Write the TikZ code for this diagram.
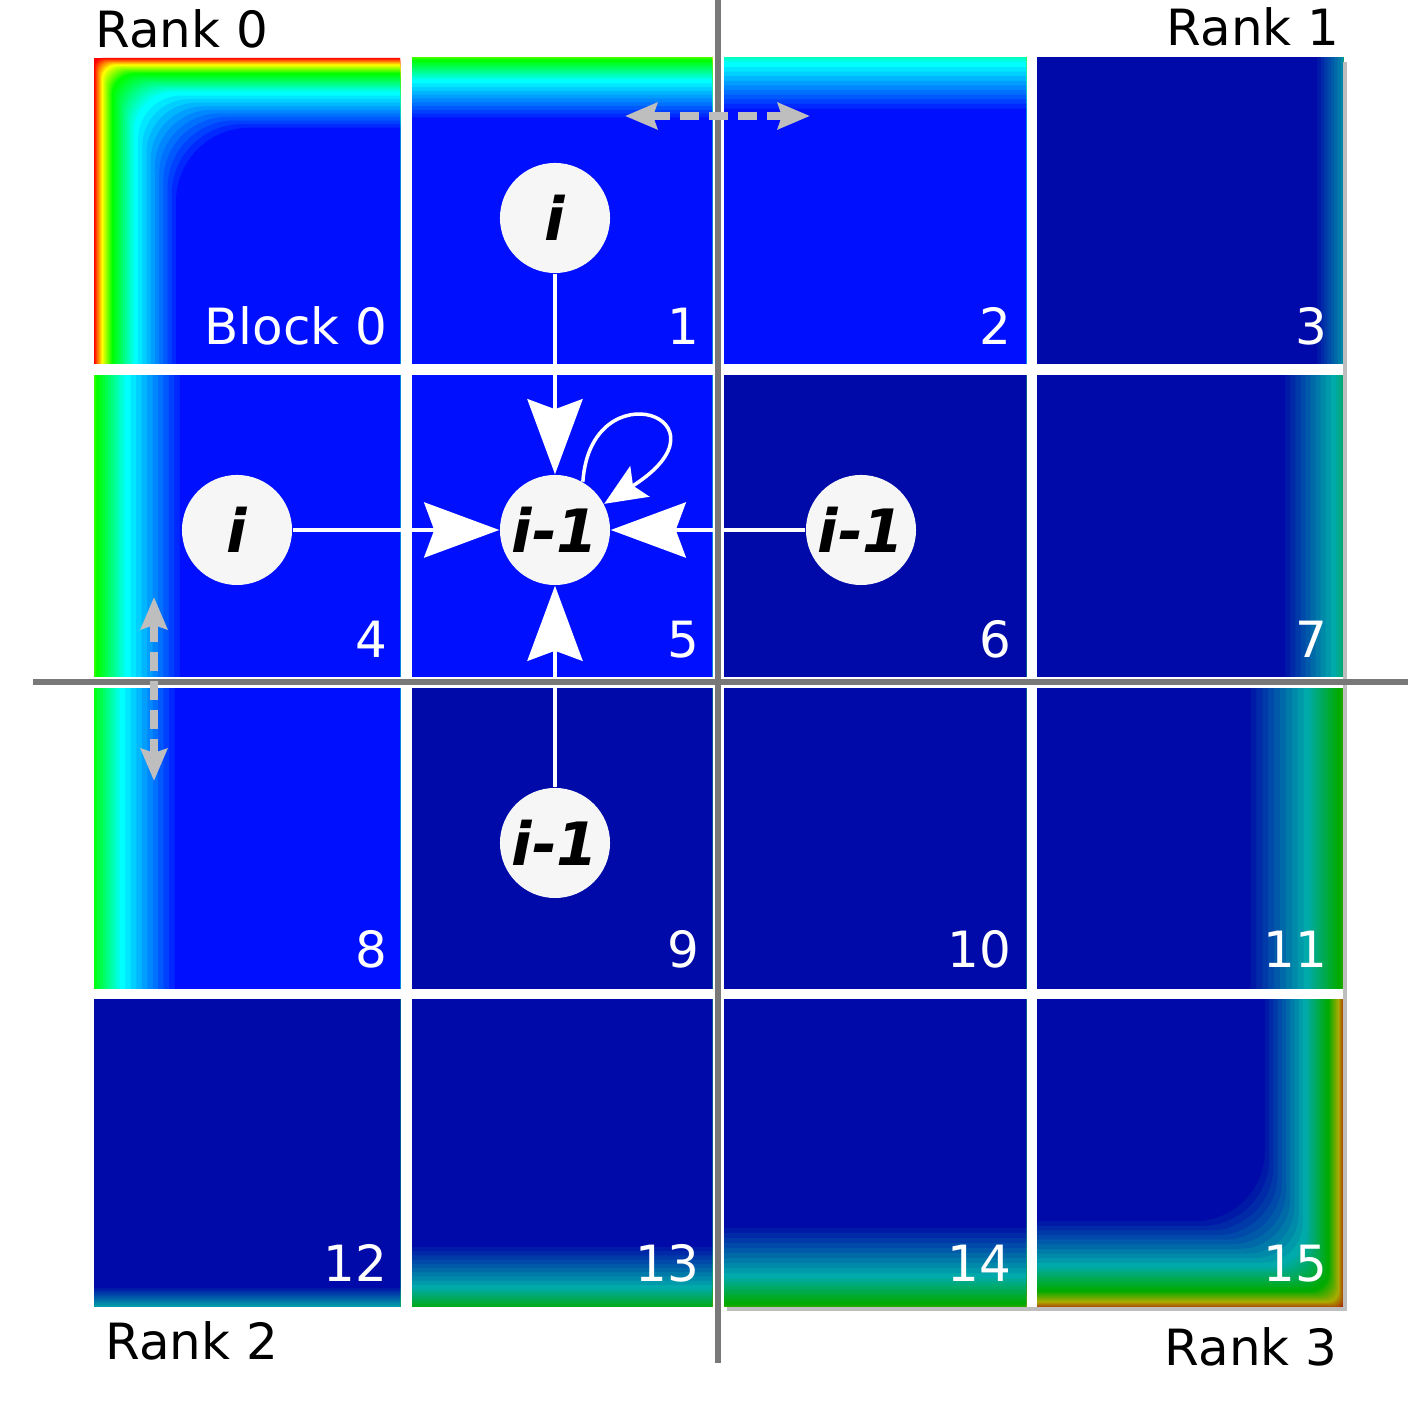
\documentclass[tikz,border=0pt]{standalone}
\usepackage{fontspec}
\setmainfont{DejaVu Sans}
\usetikzlibrary{arrows.meta}

% jet colours, bright and dark
\definecolor{jredB}{RGB}{255,0,0}
\definecolor{jyelB}{RGB}{255,255,0}
\definecolor{jgrnB}{RGB}{0,255,0}
\definecolor{jcynB}{RGB}{0,255,255}
\definecolor{jbluB}{RGB}{0,16,255}
\definecolor{jredD}{RGB}{170,0,0}
\definecolor{jyelD}{RGB}{170,170,0}
\definecolor{jgrnD}{RGB}{0,170,0}
\definecolor{jcynD}{RGB}{0,170,170}
\definecolor{jbluD}{RGB}{0,10,168}
\definecolor{axisgray}{RGB}{120,120,120}
\definecolor{halogray}{RGB}{190,190,190}
\definecolor{statefill}{RGB}{246,246,246}

\def\xlo{{94,412,724,1037}}
\def\xhi{{400,712,1026,1343}}
\def\ylo{{58,376,689,1000}}
\def\yhi{{364,677,989,1307}}
\def\xend{{388,700,1012,1328}}
\def\ybase{{345,658,968,1282}}

\tikzset{
	num/.style={text=white, anchor=base east, inner sep=0pt, font=\fontsize{14.2}{17}\selectfont},
	rank/.style={text=black, inner sep=0pt, font=\fontsize{14.2}{17}\selectfont},
	state/.style={circle, fill=statefill, minimum size=1.1cm, inner sep=0pt, font=\fontsize{17}{20}\selectfont\bfseries\itshape},
	flow/.style={draw=white, line width=0.045cm, -{Stealth[length=0.75cm, width=0.55cm, inset=0.1cm]}},
	selfflow/.style={draw=white, line width=0.035cm, -{Stealth[length=0.42cm, width=0.36cm, inset=0.08cm]}},
	halo/.style={draw=halogray, line width=0.08cm, dash pattern=on 0.19cm off 0.1cm,
		{Stealth[length=0.32cm, width=0.26cm, inset=0.04cm]}-{Stealth[length=0.32cm, width=0.26cm, inset=0.04cm]}},
	axisline/.style={draw=axisgray, line width=0.06cm},
}

\begin{document}
\begin{tikzpicture}[x=0.01cm, y=-0.01cm]
	\useasboundingbox (0,0) rectangle (1408,1401);

	% heat map blocks
	\foreach \bn/\bcol/\brow/\eL/\eT/\eR/\eB/\pal/\off/\lab in {
		0/0/0/1/0.85/0/0/B/0/Block 0, 1/1/0/0/0.9/0/0/B/16/1, 2/2/0/0/1.1/0/0/B/36/2, 3/3/0/0/0/0.8/0/D/50/3,
		4/0/1/1.3/0/0/0/B/16/4, 5/1/1/0/0/0/0/B/0/5, 6/2/1/0/0/0/0/D/0/6, 7/3/1/0/0/1.2/0/D/34/7,
		8/0/2/1.3/0/0/0/B/20/8, 9/1/2/0/0/0/0/D/0/9, 10/2/2/0/0/0/0/D/0/10, 11/3/2/0/0/1.4/0/D/16/11,
		12/0/3/0/0/0/0.5/D/44/12, 13/1/3/0/0/0/1/D/22/13, 14/2/3/0/0/0/1.2/D/16/14, 15/3/3/0/0/1/1.1/D/4/15}{
		\pgfmathsetmacro\xa{\xlo[\bcol]}
		\pgfmathsetmacro\xb{\xhi[\bcol]}
		\pgfmathsetmacro\ya{\ylo[\brow]}
		\pgfmathsetmacro\yb{\yhi[\brow]}
		\pgfmathsetmacro\xt{\xend[\bcol]}
		\pgfmathsetmacro\yt{\ybase[\brow]}
		\begin{scope}
			\clip (\xa,\ya) rectangle (\xb,\yb);
			\fill[jred\pal] (\xa,\ya) rectangle (\xb,\yb);
			\foreach \da/\db/\ca/\cb in {0/8/jred/jyel, 8/18/jyel/jgrn, 18/40/jgrn/jcyn, 40/82/jcyn/jblu}{
				\foreach \s in {0,...,10}{
					\pgfmathsetmacro\dd{\da+(\db-\da)*\s/10-\off}
					\pgfmathtruncatemacro\pp{10*\s}
					\pgfmathsetmacro\rxa{\eL>0 ? \xa+\dd*\eL : \xa-80}
					\pgfmathsetmacro\rya{\eT>0 ? \ya+\dd*\eT : \ya-80}
					\pgfmathsetmacro\rxb{\eR>0 ? \xb-\dd*\eR : \xb+80}
					\pgfmathsetmacro\ryb{\eB>0 ? \yb-\dd*\eB : \yb+80}
					\pgfmathsetmacro\rr{(8+0.8*max(\dd,0))*0.2845}
					\colorlet{band}{\cb\pal!\pp!\ca\pal}
					\fill[band, rounded corners=\rr pt] (\rxa,\rya) rectangle (\rxb,\ryb);
				}
			}
		\end{scope}
		\node[num] (lab\bn) at (\xt,\yt) {\lab};
	}

	% outer edge
	\fill[halogray] (1343,62) rectangle (1347,1311);
	\fill[halogray] (727,1307) rectangle (1347,1311);

	% ranks
	\node[rank, anchor=base west] (rank0) at (95,48) {Rank 0};
	\node[rank, anchor=base east] (rank1) at (1340,46) {Rank 1};
	\node[rank, anchor=base west] (rank2) at (105,1360) {Rank 2};
	\node[rank, anchor=base east] (rank3) at (1338,1366) {Rank 3};

	% stencil
	\node[state] (cUp) at (555,218) {i};
	\node[state] (cMid) at (555,530) {i-1};
	\node[state] (cLeft) at (237,530) {i};
	\node[state] (cRight) at (861,530) {i-1};
	\node[state] (cDown) at (555,843) {i-1};

	\draw[flow] (cUp) -- (cMid);
	\draw[flow] (cLeft) -- (cMid);
	\draw[flow] (cRight) -- (cMid);
	\draw[flow] (cDown) -- (cMid);
	\draw[selfflow] (cMid.60) .. controls +(8,-115) and +(135,-85) .. (cMid.28);

	% rank borders
	\coordinate (vTop) at (718,0);
	\coordinate (vBot) at (718,1363);
	\coordinate (hL) at (33,682);
	\coordinate (hR) at (1408,682);
	\draw[axisline] (vTop) -- (vBot);
	\draw[axisline] (hL) -- (hR);

	% halo exchange
	\coordinate (haloL) at (625,116);
	\coordinate (haloR) at (810,116);
	\coordinate (haloT) at (154,597);
	\coordinate (haloB) at (154,781);
	\draw[halo] (haloL) -- (haloR);
	\draw[halo] (haloT) -- (haloB);
\end{tikzpicture}
\end{document}
